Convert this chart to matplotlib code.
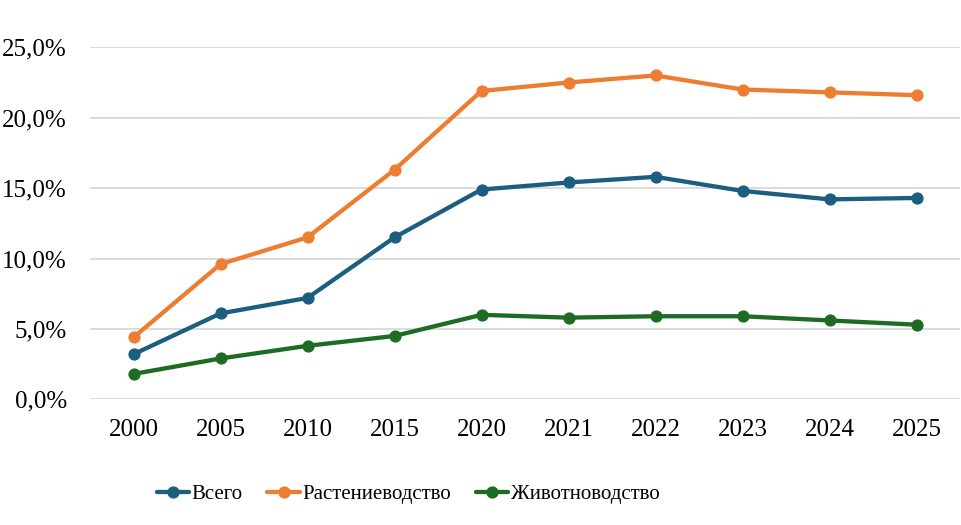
import matplotlib
matplotlib.use('Agg')
import matplotlib.pyplot as plt
from matplotlib.ticker import FuncFormatter, MultipleLocator

years = ['2000', '2005', '2010', '2015', '2020', '2021', '2022', '2023', '2024', '2025']
vsego = [3.2, 6.1, 7.2, 11.5, 14.9, 15.4, 15.8, 14.8, 14.2, 14.3]
rastenievodstvo = [4.4, 9.6, 11.5, 16.3, 21.9, 22.5, 23.0, 22.0, 21.8, 21.6]
zhivotnovodstvo = [1.8, 2.9, 3.8, 4.5, 6.0, 5.8, 5.9, 5.9, 5.6, 5.3]

plt.rcParams['font.family'] = ['Liberation Serif', 'DejaVu Serif']

fig = plt.figure(figsize=(9.61, 5.25), dpi=100)
ax = fig.add_axes([90 / 961, 0.2394, 870 / 961, 0.6705])

x = list(range(len(years)))
series = [
    (vsego, 'Всего', '#1B5E80'),
    (rastenievodstvo, 'Растениеводство', '#ED7D31'),
    (zhivotnovodstvo, 'Животноводство', '#1E6B24'),
]
for vals, name, color in series:
    ax.plot(x, vals, color=color, lw=3.1, marker='o', markersize=7.8,
            label=name, solid_capstyle='round', zorder=3)

ax.set_xlim(-0.5, len(years) - 0.5)
ax.set_ylim(0, 25)
ax.yaxis.set_major_locator(MultipleLocator(5))
ax.yaxis.set_major_formatter(FuncFormatter(lambda v, p: f'{v:.1f}%'.replace('.', ',')))
ax.set_xticks(x)
ax.set_xticklabels(years)
ax.grid(axis='y', color='#D9D9D9', lw=1.3, zorder=0)
for s in ax.spines.values():
    s.set_visible(False)
ax.tick_params(length=0, labelsize=18, colors='black')
ax.tick_params(axis='y', pad=16.5)
ax.tick_params(axis='x', pad=14)

# legend sits left of centre in the original
leg = fig.legend(loc='center', bbox_to_anchor=(408 / 961, 1 - 494 / 525), ncol=3,
                 frameon=False, fontsize=15, handlelength=1.55,
                 handletextpad=0.12, columnspacing=1.2,
                 borderpad=0, borderaxespad=0)

fig.savefig('out.png', dpi=100)
